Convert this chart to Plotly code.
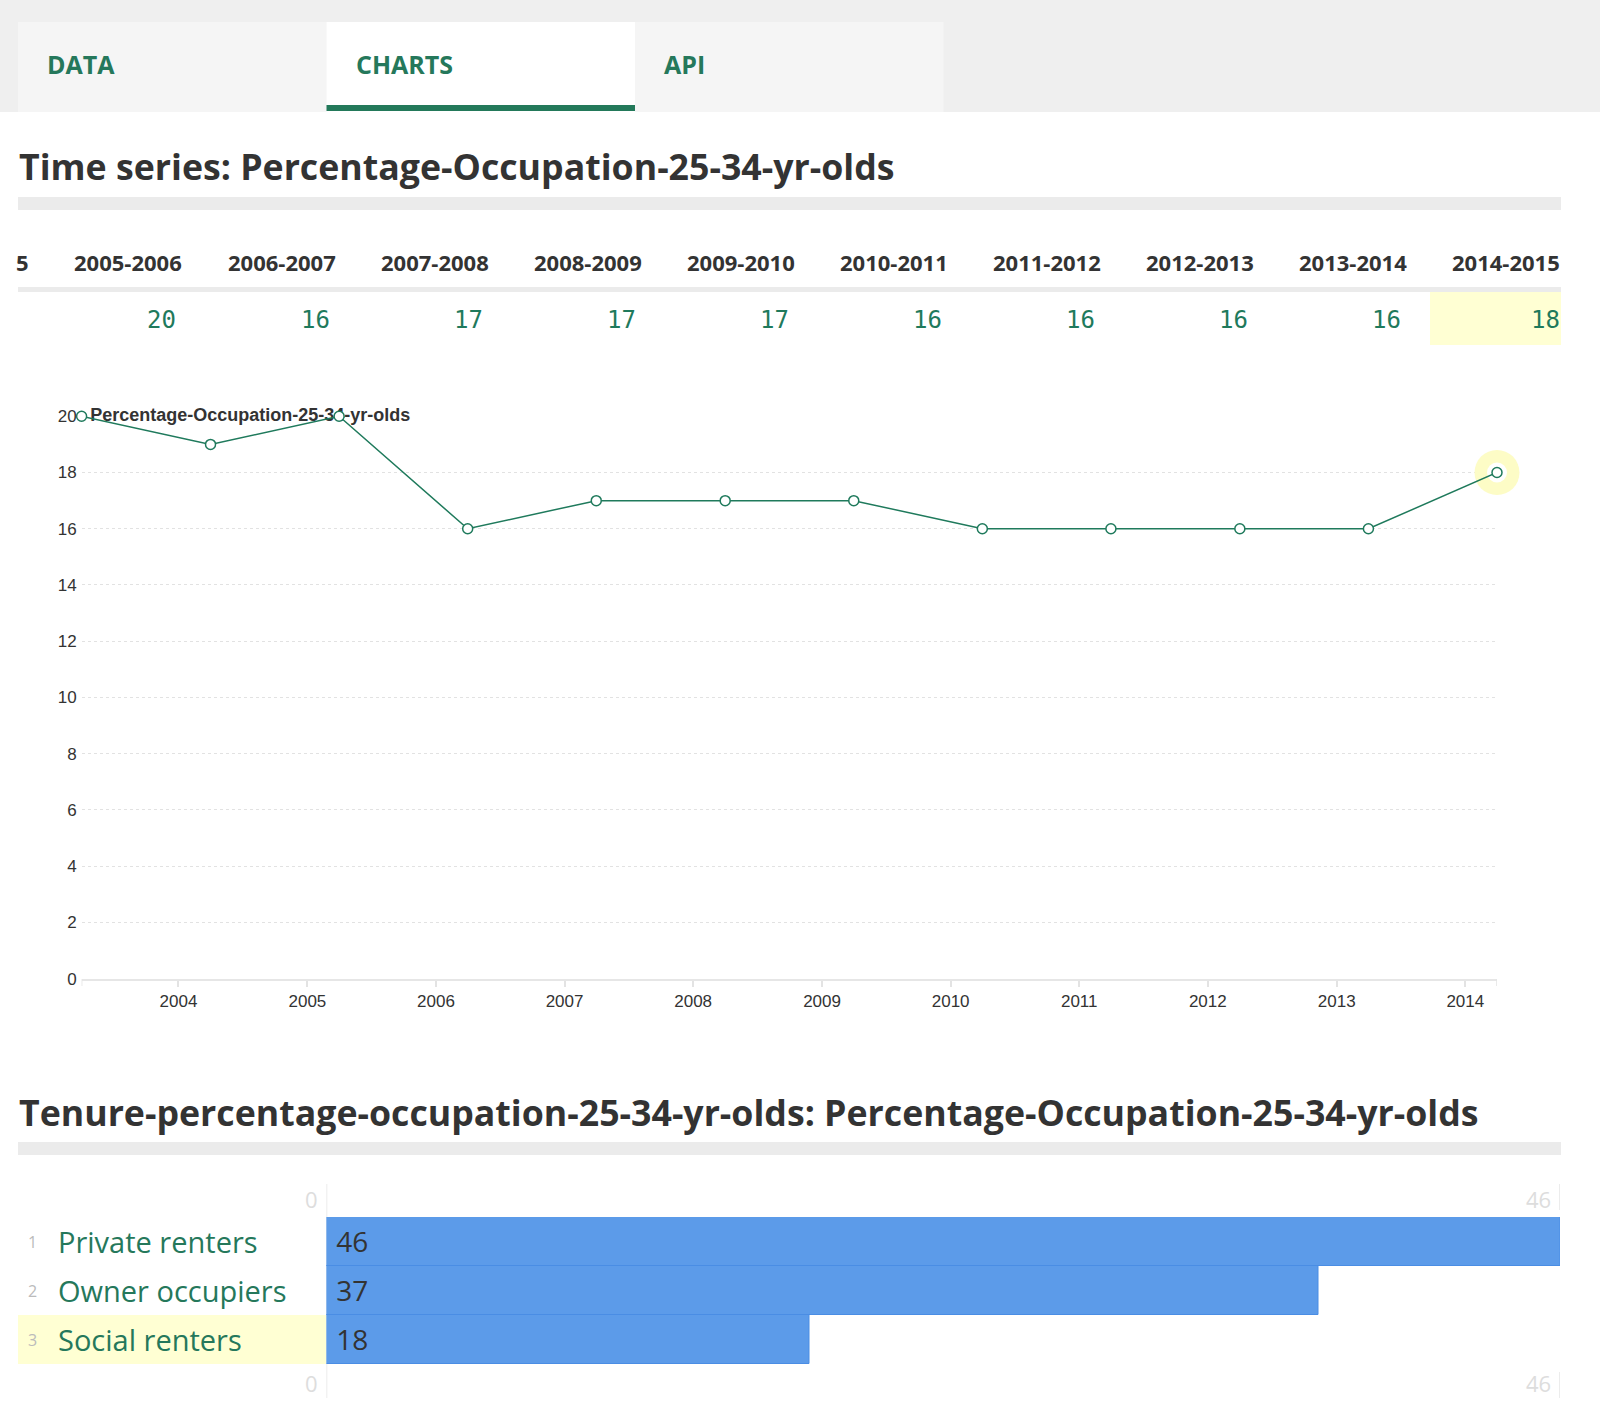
import plotly.graph_objects as go

W, H = 1600, 1407

# ---------------- data ----------------
tabs = ["DATA", "CHARTS", "API"]
active_tab = "CHARTS"
series_name = "Percentage-Occupation-25-34-yr-olds"
title_time = "Time series: " + series_name
title_tenure = "Tenure-percentage-occupation-25-34-yr-olds: " + series_name

start_years = [2003, 2004, 2005, 2006, 2007, 2008, 2009, 2010, 2011, 2012, 2013, 2014]
occupation_pct = [20, 19, 20, 16, 17, 17, 17, 16, 16, 16, 16, 18]
x_tick_years = [2004, 2005, 2006, 2007, 2008, 2009, 2010, 2011, 2012, 2013, 2014]
y_ticks = [0, 2, 4, 6, 8, 10, 12, 14, 16, 18, 20]

tenure_categories = ["Private renters", "Owner occupiers", "Social renters"]
tenure_values = [46, 37, 18]
highlight_tenure = "Social renters"

# ---------------- style ----------------
GREEN = "#1f7a5c"
TXT = "#333333"
GRAY_BAR = "#ebebeb"
YELLOW = "#ffffd3"
HEAD_FONT = "Open Sans"
CHART_FONT = "Liberation Sans"


def X(px):
    return px / W


def Y(py):
    return 1 - py / H


dates = [f"{y}-04-01" for y in start_years]
periods = [f"{y}-{y + 1}" for y in start_years]

shapes = []
annotations = []


def rect(x0, y0, x1, y1, color, layer="below"):
    shapes.append(dict(type="rect", xref="paper", yref="paper",
                       x0=X(x0), x1=X(x1), y0=Y(y1), y1=Y(y0),
                       fillcolor=color, line=dict(width=0), layer=layer))


def text(x, y, s, size, color, family=HEAD_FONT, weight=400, anchor="left"):
    annotations.append(dict(xref="paper", yref="paper", x=X(x), y=Y(y), text=s,
                            showarrow=False, xanchor=anchor, yanchor="middle",
                            font=dict(size=size, color=color, family=family, weight=weight)))


# ---- tab header ----
rect(0, 0, W, 112, "#efefef")
tab_w = 308.5
for i, t in enumerate(tabs):
    x0 = 18 + i * tab_w
    rect(x0, 22, x0 + tab_w, 112, "#ffffff" if t == active_tab else "#f5f5f5")
    if t == active_tab:
        rect(x0, 105, x0 + tab_w, 111, "#23795a")
    text(x0 + 27, 64, t, 25, "#25785b", weight=700)

# ---- time series title ----
text(17, 166, title_time, 35.7, TXT, weight=700)
rect(18, 197, 1561, 210, GRAY_BAR)

# ---- table ----
col_w = 153.06
last_right = 1562
n_vis = 10
vis_periods = periods[-n_vis:]
vis_vals = occupation_pct[-n_vis:]
rect(18, 287, 1561, 292, GRAY_BAR)
rect(1430, 292, 1561, 345, YELLOW)
for k, (p, v) in enumerate(zip(vis_periods, vis_vals)):
    r = last_right - (n_vis - 1 - k) * col_w
    text(r, 262, p, 22, TXT, weight=700, anchor="right")
    off = 0 if k == n_vis - 1 else 6
    text(r - off, 320, str(v), 24, GREEN, family="DejaVu Sans Mono", anchor="right")
# clipped column on the left edge
clip_r = last_right - n_vis * col_w
text(clip_r, 262, periods[-n_vis - 1][-1], 22, TXT, weight=700, anchor="right")

# ---- tenure title ----
text(17, 1112, title_tenure, 35.7, TXT, weight=700)
rect(18, 1142, 1561, 1155, GRAY_BAR)

fig = go.Figure()

# halo around the latest point
fig.add_trace(go.Scatter(x=[dates[-1]], y=[occupation_pct[-1]], mode="markers",
                         marker=dict(size=45, color="#fdfcc6", line=dict(width=0)),
                         cliponaxis=False, hoverinfo="skip"))
fig.add_trace(go.Scatter(x=[dates[-1]], y=[occupation_pct[-1]], mode="markers",
                         marker=dict(size=20, color="#ffffff", line=dict(width=0)),
                         cliponaxis=False, hoverinfo="skip"))
# series label
fig.add_trace(go.Scatter(x=[dates[0]], y=[occupation_pct[0]], mode="text",
                         text=["\u00a0\u2009" + series_name], textposition="middle right",
                         textfont=dict(family=CHART_FONT, size=18, color=TXT, weight=700),
                         cliponaxis=False, hoverinfo="skip"))
# line
fig.add_trace(go.Scatter(x=dates, y=occupation_pct, mode="lines+markers",
                         line=dict(color=GREEN, width=1.5),
                         marker=dict(size=10, color="#ffffff", line=dict(color=GREEN, width=1.5)),
                         cliponaxis=False))

# end caps of the x axis
for d in (dates[0], dates[-1]):
    shapes.append(dict(type="line", xref="x", yref="paper", x0=d, x1=d,
                       y0=Y(979), y1=Y(986), line=dict(color="#e3e3e3", width=1.5)))

# ---- bar chart ----
fig.add_trace(go.Bar(x=tenure_values, y=tenure_categories, orientation="h",
                     xaxis="x2", yaxis="y2", width=1,
                     marker=dict(color="#5c9be9", line=dict(color="#4a8de4", width=1)),
                     texttemplate="\u00a0%{x}", textposition="inside",
                     insidetextanchor="start",
                     textfont=dict(family=HEAD_FONT, size=28, color=TXT),
                     hoverinfo="skip"))

hi = tenure_categories.index(highlight_tenure)
shapes.append(dict(type="rect", xref="paper", yref="y2", x0=X(18), x1=X(326.5),
                   y0=hi - 0.5, y1=hi + 0.5, fillcolor=YELLOW, line=dict(width=0), layer="below"))
for i, c in enumerate(tenure_categories):
    annotations.append(dict(xref="paper", yref="y2", x=X(56), y=c, text=c, showarrow=False,
                            xanchor="left", yanchor="middle",
                            font=dict(family=HEAD_FONT, size=29, color="#25785b")))
    annotations.append(dict(xref="paper", yref="y2", x=X(26), y=c, text=str(i + 1), showarrow=False,
                            xanchor="left", yanchor="middle",
                            font=dict(family=HEAD_FONT, size=16, color="#bbbbbb")))

bar_ticks = [0, max(tenure_values)]
for t in bar_ticks:
    for yy in (1199, 1383):
        annotations.append(dict(xref="x2", yref="paper", x=t, y=Y(yy), text=str(t), showarrow=False,
                                xanchor="right", yanchor="middle", xshift=-7,
                                font=dict(family=HEAD_FONT, size=22, color="#dddddd")))
shapes.append(dict(type="line", xref="x2", yref="paper", x0=bar_ticks[0], x1=bar_ticks[0],
                   y0=Y(1398), y1=Y(1184), line=dict(color="#e6e6e6", width=1.5), layer="below"))
for (a, b) in ((1184, 1210), (1372, 1398)):
    shapes.append(dict(type="line", xref="x2", yref="paper", x0=bar_ticks[1], x1=bar_ticks[1],
                       y0=Y(b), y1=Y(a), line=dict(color="#e6e6e6", width=1.5), layer="below"))

fig.update_layout(
    width=W, height=H, autosize=False, margin=dict(l=0, r=0, t=0, b=0, pad=0, autoexpand=False),
    paper_bgcolor="#ffffff", plot_bgcolor="rgba(0,0,0,0)",
    showlegend=False, hovermode=False, bargap=0,
    shapes=shapes, annotations=annotations,
    xaxis=dict(type="date", domain=[X(81.6), X(1497)], range=[dates[0], dates[-1]],
               tickvals=[f"{y}-01-01" for y in x_tick_years], ticktext=[str(y) for y in x_tick_years],
               ticks="outside", ticklen=6, tickwidth=1.5, tickcolor="#e3e3e3",
               showline=True, linecolor="#e6e6e6", linewidth=2, showgrid=False, zeroline=False,
               tickfont=dict(family=CHART_FONT, size=17, color=TXT), ticklabelstandoff=0,
               fixedrange=True),
    yaxis=dict(domain=[Y(978.6), Y(416.3)], range=[0, 20], tickvals=y_ticks,
               showgrid=True, gridcolor="#e2e2e2", griddash="3px,3px", gridwidth=1,
               zeroline=False, showline=False, ticks="", ticklabelstandoff=4,
               tickfont=dict(family=CHART_FONT, size=17, color=TXT), fixedrange=True),
    xaxis2=dict(domain=[X(326.5), X(1560)], range=[0, max(tenure_values)], visible=False,
                anchor="y2", fixedrange=True),
    yaxis2=dict(domain=[Y(1364), Y(1217)], autorange="reversed", visible=False,
                anchor="x2", fixedrange=True),
)

post = ("document.documentElement.style.margin='0';document.documentElement.style.padding='0';"
        "document.documentElement.style.overflow='hidden';"
        "document.body.style.margin='0';document.body.style.padding='0';"
        "document.body.style.overflow='hidden';"
        "var gd=document.getElementById('{plot_id}');"
        "gd.style.position='fixed';gd.style.left='0px';gd.style.top='0px';"
        "gd.style.margin='0';")
fig.write_html("out.html", config={"displayModeBar": False, "responsive": False},
               post_script=post)
